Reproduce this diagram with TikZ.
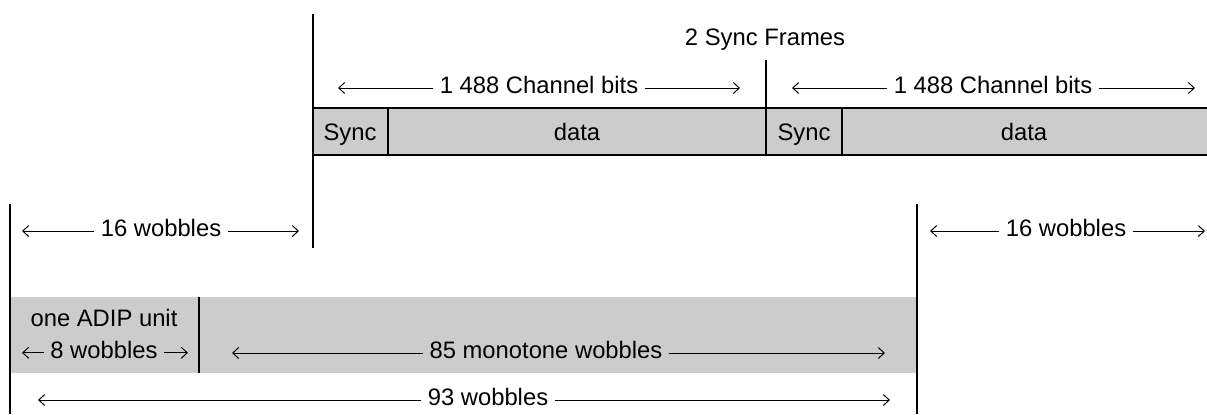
\documentclass[tikz,border=0pt]{standalone}
\usepackage{fontspec}
\setmainfont{Liberation Sans}
\usetikzlibrary{positioning,arrows.meta}
\definecolor{bandgrey}{RGB}{204,204,204}
\tikzset{
  lbl/.style={inner sep=3pt,text height=0.75em,text depth=0.2em,font=\fontsize{11.9}{13}\selectfont},
  dimline/.style={-{Straight Barb[length=3pt,width=5.5pt]},line width=0.5pt},
  wall/.style={line width=1pt},
}

\begin{document}
\begin{tikzpicture}[x=0.5pt,y=-0.5pt]
\useasboundingbox (0,0) rectangle (1207,414);
%% grey bands
\fill[bandgrey] (313,108) rectangle (1207,155);
\fill[bandgrey] (10,297) rectangle (917,373);
%the frame lines
\draw[wall] (313,108) -- (1207,108);
\draw[wall] (313,155) -- (1207,155);
\draw[wall] (313,14) -- (313,248);
\draw[wall] (388,108) -- (388,155);
\draw[wall] (766,60) -- (766,155);
\draw[wall] (842,108) -- (842,155);
\draw[wall] (10,204) -- (10,414);
\draw[wall] (917,204) -- (917,414);
\draw[wall] (199,297) -- (199,373);
%the nodes
\node[lbl] (syncFrames) at (765,40) {2 Sync Frames};
\node[lbl] (syncA) at (350,135) {Sync};
\node[lbl] (dataA) at (577,135) {data};
\node[lbl] (syncB) at (804,135) {Sync};
\node[lbl] (dataB) at (1024,135) {data};
\node[lbl] (bitsA) at (539,88) {1 488 Channel bits};
\node[lbl] (bitsB) at (993,88) {1 488 Channel bits};
\node[lbl] (wobLeft) at (161,231) {16 wobbles};
\node[lbl] (wobRight) at (1066,231) {16 wobbles};
\node[lbl] (adipUnit) at (104,321) {one ADIP unit};
\node[lbl,below=0pt of adipUnit] (wobEight) {8 wobbles};
\node[lbl] (wobMono) at (546,353) {85 monotone wobbles};
\node[lbl] (wobAll) at (488,400) {93 wobbles};
%arrow ends
\coordinate (bitsAL) at (338,88);
\coordinate (bitsAR) at (740,88);
\coordinate (bitsBL) at (792,88);
\coordinate (bitsBR) at (1195,88);
\coordinate (wobLeftL) at (22,231);
\coordinate (wobLeftR) at (299,231);
\coordinate (wobRightL) at (930,231);
\coordinate (wobRightR) at (1205,231);
\coordinate (wobEightL) at (22,353);
\coordinate (wobEightR) at (188,353);
\coordinate (wobMonoL) at (232,353);
\coordinate (wobMonoR) at (885,353);
\coordinate (wobAllL) at (38,400);
\coordinate (wobAllR) at (890,400);
%drawings of arrows
\draw[dimline] (bitsA.west) -- (bitsAL);
\draw[dimline] (bitsA.east) -- (bitsAR);
\draw[dimline] (bitsB.west) -- (bitsBL);
\draw[dimline] (bitsB.east) -- (bitsBR);

\draw[dimline] (wobLeft.west) -- (wobLeftL);
\draw[dimline] (wobLeft.east) -- (wobLeftR);
\draw[dimline] (wobRight.west) -- (wobRightL);
\draw[dimline] (wobRight.east) -- (wobRightR);

\draw[dimline] (wobEight.west) -- (wobEightL |- wobEight.west);
\draw[dimline] (wobEight.east) -- (wobEightR |- wobEight.east);
\draw[dimline] (wobMono.west) -- (wobMonoL);
\draw[dimline] (wobMono.east) -- (wobMonoR);

\draw[dimline] (wobAll.west) -- (wobAllL);
\draw[dimline] (wobAll.east) -- (wobAllR);
\end{tikzpicture}
\end{document}
